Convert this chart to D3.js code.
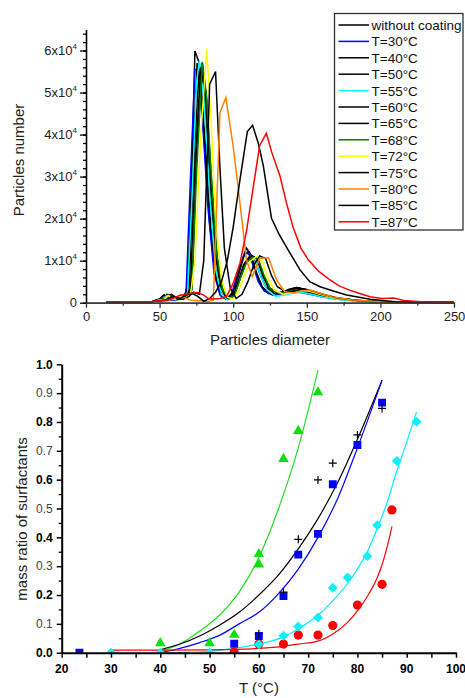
<!DOCTYPE html>
<html>
<head>
<meta charset="utf-8">
<script src="https://cdn.jsdelivr.net/npm/d3@7"></script>
<style>
body { margin: 0; background: #fff; }
svg { display: block; font-family: "Liberation Sans", Arial, sans-serif; }
</style>
</head>
<body>
<svg width="465" height="698"></svg>
<script>
// ---- top chart: particle size distributions [diameter, count] ----
const legendLabels = ["without coating", "T=30°C", "T=40°C", "T=50°C", "T=55°C", "T=60°C",
    "T=65°C", "T=68°C", "T=72°C", "T=75°C", "T=80°C", "T=85°C", "T=87°C"];

const distNoCoating = [[14,100],[30,150],[45,300],[50,900],[53,1900],[56,800],[60,600],[64,900],[67,1500],[70,6000],[74,59900],[77,57000],[80,40000],[84,19000],[88,6000],[92,1500],[96,800],[100,2500],[104,7000],[108,12000],[111,11500],[115,7500],[119,4000],[124,2200],[130,2000],[136,2600],[141,3200],[146,2800],[152,2300],[160,1700],[170,1000],[185,500],[200,200],[220,100],[250,50]];
const dist30 = [[14,100],[30,150],[45,300],[50,900],[54,1500],[57,700],[61,600],[65,1000],[68,2500],[71,30000],[74,55500],[76,55500],[79,44000],[83,22000],[87,7000],[91,1800],[95,800],[99,2200],[103,7000],[107,11000],[110,12200],[113,9500],[117,5000],[121,2800],[127,1800],[133,2100],[139,2800],[145,2500],[152,2000],[160,1400],[170,900],[185,400],[200,150],[220,80],[250,40]];
const dist40 = [[14,100],[30,150],[45,300],[52,1000],[55,2000],[58,900],[62,700],[66,1200],[69,3000],[72,30000],[75.5,57000],[78,53000],[81,38000],[85,17000],[89,5000],[93,1200],[97,1000],[101,3500],[105,9000],[109,13000],[112,11500],[116,7000],[120,3600],[126,2000],[132,2300],[138,3200],[143,3600],[148,3000],[155,2200],[165,1300],[178,700],[195,300],[215,100],[250,40]];
const dist50 = [[14,100],[30,150],[45,300],[53,1100],[56,1900],[59,900],[63,800],[67,1300],[70,3000],[73,32000],[77,56500],[80,51000],[83,34000],[87,14000],[91,4000],[95,1200],[99,1300],[103,4500],[107,9000],[111,11000],[114,10800],[118,7000],[122,3800],[128,2200],[134,2400],[140,3300],[145,3500],[150,3000],[157,2200],[167,1300],[180,600],[200,200],[220,80],[250,40]];
const dist55 = [[14,100],[30,150],[45,300],[52,900],[55,1700],[58,800],[62,700],[66,1100],[69,2500],[72,25000],[75,52000],[77,57500],[80,49000],[84,26000],[88,8000],[92,2000],[96,700],[100,1500],[104,5000],[108,9500],[112,11000],[115,10200],[119,6000],[123,3000],[129,1500],[135,1800],[141,2300],[147,2400],[153,2000],[160,1400],[170,800],[185,300],[200,100],[250,30]];
const dist60 = [[14,100],[30,150],[45,300],[54,1000],[57,1900],[60,800],[64,800],[68,1300],[71,3500],[74,33000],[78,56000],[81,50000],[84,33000],[88,13000],[92,3500],[96,1100],[100,1500],[104,5500],[108,9500],[112,11000],[116,10500],[120,6500],[124,3500],[130,2300],[136,2600],[142,3500],[147,3300],[153,2600],[160,1800],[170,1100],[185,500],[200,200],[250,40]];
const dist65 = [[14,100],[30,150],[45,300],[55,1100],[58,2000],[61,900],[65,900],[69,1500],[72,3500],[75,35000],[79,57000],[82,48000],[85,30000],[89,11000],[93,3000],[97,1000],[101,2000],[105,6000],[109,9800],[113,11200],[117,10300],[121,6000],[125,3400],[131,2400],[137,2800],[143,3600],[148,3200],[154,2500],[162,1700],[172,1000],[187,400],[205,150],[250,40]];
const dist68 = [[14,100],[30,150],[45,300],[55,1000],[58,1700],[61,800],[65,900],[69,1400],[72,3000],[75,30000],[79,57300],[82,49000],[85,31000],[89,11000],[93,3000],[97,900],[101,1800],[105,6000],[109,9500],[113,10800],[117,10400],[121,6500],[125,3500],[131,2200],[137,2600],[143,3100],[149,3000],[155,2400],[162,1700],[172,1000],[187,400],[205,150],[250,40]];
const dist72 = [[14,100],[30,150],[45,300],[53,800],[56,1700],[59,900],[63,700],[67,1000],[71,2000],[74,10000],[78,40000],[82,60300],[85,43000],[88,20000],[92,5500],[96,1300],[100,900],[104,3000],[108,7000],[112,10000],[116,11000],[120,9500],[124,5500],[128,3000],[134,2000],[140,2400],[146,2900],[152,2700],[159,2000],[168,1200],[180,600],[200,200],[250,40]];
const dist75 = [[14,100],[30,150],[45,300],[55,700],[59,1700],[62,800],[66,800],[70,1500],[73,2500],[77,2000],[80,10000],[84,52000],[88,55000],[91,32000],[94,13000],[98,3500],[102,1000],[106,2000],[110,5000],[114,9000],[118,11100],[122,10500],[126,6500],[130,3800],[136,2500],[142,2800],[148,3300],[154,2800],[161,2000],[170,1200],[183,600],[200,200],[250,40]];
const dist80 = [[14,100],[30,150],[45,300],[55,500],[60,1000],[64,1800],[67,1200],[71,600],[75,500],[79,400],[83,300],[86.5,650],[91,45200],[95,48800],[100,37200],[104.6,23700],[109,10200],[113,6200],[118,10600],[124,10700],[129.5,5400],[135,2600],[141,2300],[146,2700],[152,3000],[158,2400],[167,1400],[180,700],[200,250],[220,80],[250,30]];
const dist85 = [[14,100],[30,150],[45,300],[55,600],[60,1500],[64,1000],[68,1800],[72,2200],[76,1500],[80,300],[84,1000],[88,2500],[92,5000],[96,10000],[100,18000],[104.6,29300],[109.6,40700],[113.2,42200],[117,38000],[120.5,32500],[126,20100],[131.3,16200],[138.6,11800],[145.4,7800],[152,5000],[159,3800],[168,2800],[177,1840],[193,800],[210,250],[230,80],[250,30]];
const dist87 = [[14,200],[30,200],[45,300],[55,600],[60,1200],[64,1800],[68,2000],[72,2300],[76,2400],[80,1800],[83,1000],[87,900],[91,1000],[95.5,1500],[100,4600],[104.6,9400],[109.2,17400],[113.7,27700],[118,37400],[122.5,40300],[126,36000],[131.8,30100],[136,24000],[140.8,17800],[146,13000],[151,10200],[158,7500],[165.8,5400],[172,4000],[179,3000],[186,2200],[193,1400],[201,1000],[209,1100],[216,500],[230,150],[250,50]];

const topYTicks = [0, 10000, 20000, 30000, 40000, 50000, 60000];
const topXTicks = [0, 50, 100, 150, 200, 250];

// ---- bottom chart: mass ratio of surfactants vs T ----
const triT = [40, 50, 55, 60, 60, 65, 68, 72];
const triY = [0.033, 0.033, 0.062, 0.342, 0.306, 0.672, 0.769, 0.903];
const crossT = [60, 65, 68, 72, 75, 80, 85];
const crossY = [0.066, 0.21, 0.393, 0.599, 0.657, 0.755, 0.847];
const squareT = [23.6, 55, 60, 65, 68, 72, 75, 80, 85];
const squareY = [0.0, 0.031, 0.058, 0.196, 0.34, 0.412, 0.584, 0.72, 0.867];
const diamondT = [30, 40, 50, 60, 65, 68, 72, 75, 78, 82, 84, 88, 92];
const diamondY = [0.0, 0.0, 0.0, 0.029, 0.059, 0.091, 0.122, 0.225, 0.261, 0.334, 0.442, 0.665, 0.801];
const circleT = [55, 60, 65, 68, 72, 75, 80, 85, 87];
const circleY = [0.002, 0.03, 0.03, 0.061, 0.061, 0.094, 0.165, 0.237, 0.495];

// fitted curves
const fitGreenT = [40, 44, 48, 52, 56, 60, 64, 68, 72];
const fitGreenY = [0.005, 0.03, 0.075, 0.13, 0.21, 0.33, 0.5, 0.71, 0.98];
const fitBlackT = [40, 44, 48, 52, 56, 60, 64, 68, 72, 76, 80, 85];
const fitBlackY = [0.01, 0.03, 0.058, 0.095, 0.14, 0.2, 0.27, 0.36, 0.465, 0.59, 0.74, 0.945];
const fitBlueT = [40, 44, 48, 52, 56, 60, 64, 68, 72, 76, 80, 85];
const fitBlueY = [0.0, 0.015, 0.035, 0.06, 0.1, 0.14, 0.205, 0.29, 0.4, 0.535, 0.71, 0.945];
const fitCyanT = [40, 50, 55, 60, 65, 68, 72, 75, 78, 80, 82, 84, 86, 88, 90, 92];
const fitCyanY = [0.0, 0.005, 0.015, 0.03, 0.055, 0.083, 0.13, 0.18, 0.24, 0.29, 0.35, 0.43, 0.52, 0.63, 0.73, 0.835];
const fitRedT = [30, 40, 50, 60, 65, 68, 72, 75, 78, 80, 82, 84, 85, 86, 87];
const fitRedY = [0.009, 0.009, 0.01, 0.015, 0.022, 0.03, 0.04, 0.065, 0.105, 0.145, 0.195, 0.26, 0.305, 0.365, 0.437];

const botYTicks = [0, 0.1, 0.2, 0.3, 0.4, 0.5, 0.6, 0.7, 0.8, 0.9, 1.0];
const botXTicks = [20, 30, 40, 50, 60, 70, 80, 90, 100];

const svg = d3.select("svg");

function drawTop() {
    const area = { left: 86, right: 454, top: 29.5, bottom: 302.7 };
    const scX = d3.scaleLinear().domain([0, 250]).range([area.left, area.right]);
    const scY = d3.scaleLinear().domain([0, 65000]).range([area.bottom, area.top]);

    const series = [distNoCoating, dist30, dist40, dist50, dist55, dist60, dist65,
        dist68, dist72, dist75, dist80, dist85, dist87];
    const colors = ["#000", "#0000ff", "#000", "#000", "#00ffff", "#000", "#000",
        "#008000", "#ffff00", "#000", "#ff8000", "#000", "#ff0000"];

    const line = d3.line().x(d => scX(d[0])).y(d => scY(d[1]));
    series.forEach((s, i) => {
        svg.append("path")
            .datum(s)
            .attr("d", line)
            .style("fill", "none")
            .style("stroke", colors[i])
            .style("stroke-width", 1.5)
            .style("stroke-linejoin", "miter");
    });

    // axes
    const minorY = d3.range(0, 65000, 2000);
    svg.append("g")
        .attr("transform", `translate(${area.left},0)`)
        .call(d3.axisLeft(scY).tickValues(minorY).tickSize(3).tickSizeOuter(0).tickFormat(""))
        .call(g => g.selectAll("line, path").attr("stroke", "#000").attr("stroke-width", 1.3));
    const gy = svg.append("g")
        .attr("transform", `translate(${area.left},0)`)
        .call(d3.axisLeft(scY).tickValues(topYTicks).tickSize(6).tickSizeOuter(0).tickFormat(""));
    gy.selectAll("line, path").attr("stroke", "#000").attr("stroke-width", 1.3);

    const labY = svg.append("g")
        .selectAll("text")
        .data(topYTicks)
        .enter()
        .append("text")
        .attr("x", area.left - 9)
        .attr("y", d => scY(d) + 4.5)
        .attr("text-anchor", "end")
        .style("font-size", "13px")
        .style("fill", "#222");
    labY.each(function(d) {
        const t = d3.select(this);
        if (d === 0) { t.text("0"); return; }
        t.append("tspan").text(`${d / 10000}x10`);
        t.append("tspan").attr("dy", -6).style("font-size", "8px").text("4");
    });

    const minorX = [25, 75, 125, 175, 225];
    svg.append("g")
        .attr("transform", `translate(0,${area.bottom})`)
        .call(d3.axisBottom(scX).tickValues(minorX).tickSize(3).tickSizeOuter(0).tickFormat(""))
        .call(g => g.selectAll("line, path").attr("stroke", "#333").attr("stroke-width", 1.3));
    svg.append("g")
        .attr("transform", `translate(0,${area.bottom})`)
        .call(d3.axisBottom(scX).tickValues(topXTicks).tickSize(5).tickSizeOuter(0))
        .call(g => g.selectAll("line, path").attr("stroke", "#333").attr("stroke-width", 1.3))
        .call(g => g.selectAll("text")
            .attr("y", 9)
            .style("font-family", "Liberation Sans, Arial, sans-serif")
            .style("font-size", "13px")
            .style("fill", "#222"));

    svg.append("text")
        .attr("transform", `translate(24,160) rotate(-90)`)
        .attr("text-anchor", "middle")
        .style("font-size", "15px")
        .style("fill", "#222")
        .text("Particles number");
    svg.append("text")
        .attr("x", 270)
        .attr("y", 345)
        .attr("text-anchor", "middle")
        .style("font-size", "15px")
        .style("fill", "#222")
        .text("Particles diameter");

    // legend
    const lg = svg.append("g");
    lg.append("rect")
        .attr("x", 334.5).attr("y", 13.5)
        .attr("width", 128.5).attr("height", 216.5)
        .style("fill", "#fff")
        .style("stroke", "#333")
        .style("stroke-width", 1.3);
    const rowY = i => 25 + i * 16.4;
    legendLabels.forEach((lab, i) => {
        lg.append("line")
            .attr("x1", 338.5).attr("x2", 369)
            .attr("y1", rowY(i)).attr("y2", rowY(i))
            .style("stroke", colors[i])
            .style("stroke-width", 1.5);
        lg.append("text")
            .attr("x", 371.5)
            .attr("y", rowY(i) + 5)
            .style("font-size", "13.5px")
            .style("fill", "#111")
            .text(lab);
    });
}

function drawBottom() {
    const area = { left: 61.7, right: 456, top: 364.3, bottom: 652.7 };
    const scX = d3.scaleLinear().domain([20, 100]).range([area.left, area.right]);
    const scY = d3.scaleLinear().domain([0, 1]).range([area.bottom, area.top]);

    svg.append("clipPath")
        .attr("id", "clipBot")
        .append("rect")
        .attr("x", area.left)
        .attr("y", 350)
        .attr("width", 465 - area.left)
        .attr("height", area.bottom - 350);

    const plot = svg.append("g").attr("clip-path", "url(#clipBot)");

    const fits = [
        [fitGreenT, fitGreenY, "#22dd22"],
        [fitBlackT, fitBlackY, "#000"],
        [fitBlueT, fitBlueY, "#0000ff"],
        [fitCyanT, fitCyanY, "#00eeff"],
        [fitRedT, fitRedY, "#ff0000"]
    ];
    const line = d3.line()
        .x(d => scX(d[0]))
        .y(d => scY(d[1]))
        .curve(d3.curveMonotoneX);
    fits.forEach(f => {
        plot.append("path")
            .datum(d3.zip(f[0], f[1]))
            .attr("d", line)
            .style("fill", "none")
            .style("stroke", f[2])
            .style("stroke-width", 1.2);
    });

    const plus = {
        draw(context, size) {
            const r = Math.sqrt(size) / 2;
            context.moveTo(-r, 0); context.lineTo(r, 0);
            context.moveTo(0, -r); context.lineTo(0, r);
        }
    };

    function markers(ts, ys, type, size, color, rotate, isStroke) {
        plot.selectAll(null)
            .data(d3.zip(ts, ys))
            .enter()
            .append("path")
            .attr("d", d3.symbol().type(type).size(size))
            .attr("transform", d => `translate(${scX(d[0])},${scY(d[1])}) rotate(${rotate})`)
            .style("fill", isStroke ? "none" : color)
            .style("stroke", isStroke ? color : "none")
            .style("stroke-width", isStroke ? 1.2 : 0);
    }

    markers(circleT, circleY, d3.symbolCircle, 66, "#ff0000", 0, false);
    markers(diamondT, diamondY, d3.symbolSquare, 50, "#11eef5", 45, false);
    markers(squareT, squareY, d3.symbolSquare, 62, "#0000ff", 0, false);
    markers(crossT, crossY, plus, 64, "#000", 0, true);
    markers(triT, triY, d3.symbolTriangle, 48, "#11dd11", 0, false);

    // axes
    const gyMinor = svg.append("g")
        .attr("transform", `translate(${area.left},0)`)
        .call(d3.axisLeft(scY).tickValues(d3.range(0.05, 1, 0.1)).tickSize(3).tickSizeOuter(0).tickFormat(""));
    gyMinor.selectAll("line").attr("stroke", "#000").attr("stroke-width", 1.3);
    gyMinor.select("path").remove();
    svg.append("g")
        .attr("transform", `translate(${area.left},0)`)
        .call(d3.axisLeft(scY).tickValues(botYTicks).tickSize(5).tickSizeOuter(0).tickFormat(""))
        .call(g => g.selectAll("line").attr("stroke", "#000").attr("stroke-width", 1.5))
        .call(g => g.select("path").attr("stroke", "#000").attr("stroke-width", 2));

    svg.append("g")
        .selectAll("text")
        .data(botYTicks)
        .enter()
        .append("text")
        .attr("x", area.left - 9)
        .attr("y", d => scY(d) + 4.3)
        .attr("text-anchor", "end")
        .style("font-size", "12px")
        .style("font-weight", (d, i) => i % 2 === 0 ? "bold" : "normal")
        .style("fill", (d, i) => i % 2 === 0 ? "#000" : "#444")
        .text(d => d.toFixed(1));

    svg.append("g")
        .attr("transform", `translate(0,${area.bottom})`)
        .call(d3.axisBottom(scX).tickValues(d3.range(20, 101, 5)).tickSize(5).tickSizeOuter(0).tickFormat(""))
        .call(g => g.selectAll("line").attr("stroke", "#000").attr("stroke-width", 1.5))
        .call(g => g.select("path").attr("stroke", "#000").attr("stroke-width", 2));

    svg.append("g")
        .selectAll("text")
        .data(botXTicks)
        .enter()
        .append("text")
        .attr("x", d => scX(d))
        .attr("y", area.bottom + 20)
        .attr("text-anchor", "middle")
        .style("font-size", "12px")
        .style("font-weight", "bold")
        .style("fill", "#000")
        .text(d => d);

    svg.append("text")
        .attr("transform", `translate(27,519) rotate(-90)`)
        .attr("text-anchor", "middle")
        .style("font-size", "15px")
        .style("fill", "#222")
        .text("mass ratio of surfactants");
    svg.append("text")
        .attr("x", 259)
        .attr("y", 693)
        .attr("text-anchor", "middle")
        .style("font-size", "15px")
        .style("fill", "#222")
        .text("T (°C)");
}

drawTop();
drawBottom();
</script>
</body>
</html>
